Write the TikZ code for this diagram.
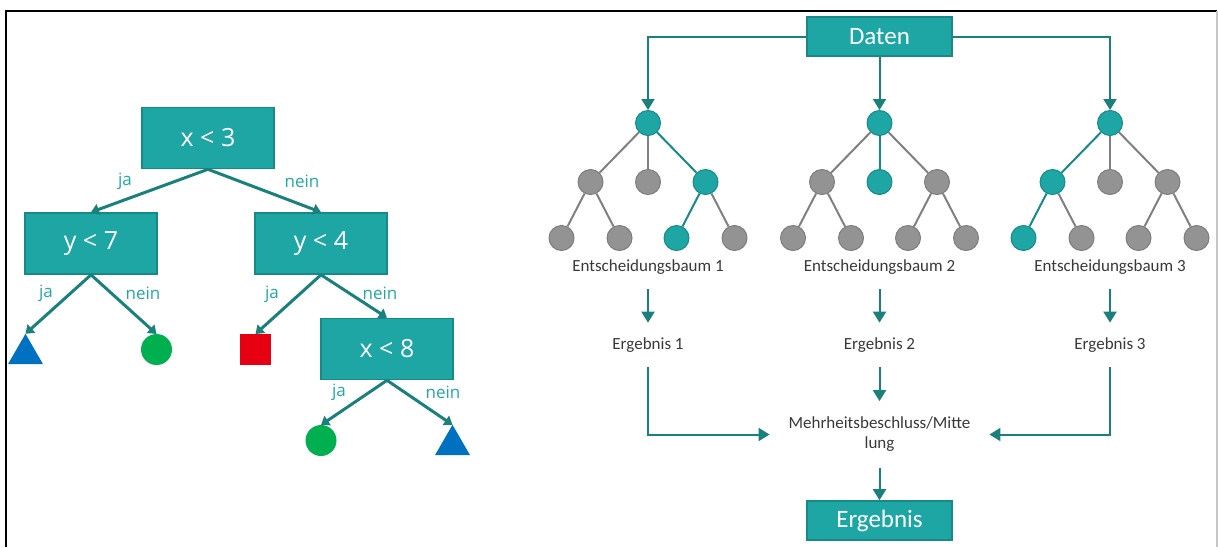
\documentclass[tikz,border=0pt]{standalone}
\usepackage{fontspec}
\setmainfont{Carlito}
\newfontfamily\treefont{Open Sans}
\usetikzlibrary{arrows.meta,shapes.geometric}

\definecolor{tealfill}{RGB}{29,166,164}
\definecolor{tealline}{RGB}{23,138,135}
\definecolor{tealarrow}{RGB}{26,128,124}
\definecolor{tealtext}{RGB}{33,168,165}
\definecolor{knotgray}{RGB}{147,147,147}
\definecolor{edgegray}{RGB}{128,128,128}
\definecolor{textgray}{RGB}{56,56,56}
\definecolor{leafblue}{RGB}{0,112,192}
\definecolor{leafgreen}{RGB}{0,176,80}
\definecolor{leafred}{RGB}{230,0,18}

\tikzset{
  tbox/.style={draw=tealline, fill=tealfill, line width=0.8pt, text=white, minimum width=66pt, minimum height=30.5pt, inner sep=0pt, font=\treefont\fontsize{12.5}{15}\selectfont},
  yn/.style={text=tealtext, inner sep=0pt, font=\treefont\fontsize{8.5}{10}\selectfont},
  arr/.style={draw=tealarrow, line width=1.5pt, -{Triangle[width=5.5pt,length=4pt]}},
  leaftri/.style={regular polygon, regular polygon sides=3, minimum size=20.2pt, inner sep=0pt, outer sep=0pt, fill=leafblue},
  leafdot/.style={circle, minimum size=15.5pt, inner sep=0pt, outer sep=0pt, fill=leafgreen},
  leafsq/.style={minimum size=15.5pt, inner sep=0pt, outer sep=0pt, fill=leafred},
  dbox/.style={draw=tealline, fill=tealfill, line width=0.8pt, text=white, minimum width=72.5pt, minimum height=19.5pt, inner sep=0pt, font=\fontsize{12.5}{15}\selectfont},
  knot/.style={circle, minimum size=12.5pt, inner sep=0pt, fill=knotgray, draw=knotgray!85!black, line width=0.5pt},
  hot/.style={knot, fill=tealfill, draw=tealline},
  gline/.style={draw=edgegray, line width=1pt},
  tline/.style={draw=tealline, line width=1pt},
  flow/.style={draw=tealarrow, line width=1pt, -{Triangle[width=6.5pt,length=5.5pt]}},
  lbl/.style={text=textgray, inner sep=0pt, outer ysep=7.5pt, font=\fontsize{8.5}{10}\selectfont}
}

\begin{document}
\begin{tikzpicture}[x=0.5pt,y=0.5pt,yscale=-1]
\useasboundingbox (0,0) rectangle (1218,547);

%Frame
\draw [line width=1.2pt] (6,547) -- (6,11) -- (1217,11) ;
\draw [color=gray!45, line width=0.8pt] (1217,11) -- (1217,547) ;

%Decision tree: boxes
\node [tbox] (x3) at (208,138) {x < 3};
\node [tbox] (y7) at (91,243.5) {y < 7};
\node [tbox] (y4) at (321,243.5) {y < 4};
\node [tbox] (x8) at (387,349) {x < 8};
%Decision tree: leaves
\node [leaftri] (tri1) at (25.5,354) {};
\node [leafdot] (kreis1) at (156.5,349.5) {};
\node [leafsq] (quad) at (255.5,349.5) {};
\node [leafdot] (kreis2) at (321,440.5) {};
\node [leaftri] (tri2) at (452.5,445) {};

%Decision tree: arrows
\draw [arr] (x3.south) -- (y7.north) ;
\draw [arr] (x3.south) -- (y4.north) ;
\draw [arr] (y7.south) -- (tri1.north) ;
\draw [arr] (y7.south) -- (kreis1.north) ;
\draw [arr] (y4.south) -- (quad.north) ;
\draw [arr] (y4.south) -- (x8.north) ;
\draw [arr] (x8.south) -- (kreis2.north) ;
\draw [arr] (x8.south) -- (tri2.north) ;

% Text Node
\node [yn] (ja1) at (125,181) {ja};
\node [yn] (nein1) at (302,181) {nein};
\node [yn] (ja2) at (46,293) {ja};
\node [yn] (nein2) at (143,293) {nein};
\node [yn] (ja3) at (272,294) {ja};
\node [yn] (nein3) at (380,293) {nein};
\node [yn] (ja4) at (339,392) {ja};
\node [yn] (nein4) at (443,392) {nein};

%Forest: data box
\node [dbox] (daten) at (879.5,36.5) {Daten};

%Forest: tree 1
\node [hot] (a) at (648,123) {};
\node [knot] (a1) at (590.5,182) {};
\node [knot] (a2) at (648,182) {};
\node [hot] (a3) at (705.5,182) {};
\node [knot] (a11) at (561.5,238) {};
\node [knot] (a12) at (619.5,238) {};
\node [hot] (a31) at (676.5,238) {};
\node [knot] (a32) at (734.5,238) {};
\draw [gline] (a) -- (a1) ;
\draw [gline] (a) -- (a2) ;
\draw [tline] (a) -- (a3) ;
\draw [gline] (a1) -- (a11) ;
\draw [gline] (a1) -- (a12) ;
\draw [tline] (a3) -- (a31) ;
\draw [gline] (a3) -- (a32) ;

%Forest: tree 2
\node [hot] (b) at (879.5,123) {};
\node [knot] (b1) at (822,182) {};
\node [hot] (b2) at (879.5,182) {};
\node [knot] (b3) at (937,182) {};
\node [knot] (b11) at (793,238) {};
\node [knot] (b12) at (851,238) {};
\node [knot] (b31) at (908,238) {};
\node [knot] (b32) at (966,238) {};
\draw [gline] (b) -- (b1) ;
\draw [tline] (b) -- (b2) ;
\draw [gline] (b) -- (b3) ;
\draw [gline] (b1) -- (b11) ;
\draw [gline] (b1) -- (b12) ;
\draw [gline] (b3) -- (b31) ;
\draw [gline] (b3) -- (b32) ;

%Forest: tree 3
\node [hot] (c) at (1110,123) {};
\node [hot] (c1) at (1052.5,182) {};
\node [knot] (c2) at (1110,182) {};
\node [knot] (c3) at (1167.5,182) {};
\node [hot] (c11) at (1023.5,238) {};
\node [knot] (c12) at (1081.5,238) {};
\node [knot] (c31) at (1138.5,238) {};
\node [knot] (c32) at (1196.5,238) {};
\draw [tline] (c) -- (c1) ;
\draw [gline] (c) -- (c2) ;
\draw [gline] (c) -- (c3) ;
\draw [tline] (c1) -- (c11) ;
\draw [gline] (c1) -- (c12) ;
\draw [gline] (c3) -- (c31) ;
\draw [gline] (c3) -- (c32) ;

% Text Node
\node [lbl] (t1) at (648,267) {Entscheidungsbaum 1};
\node [lbl] (t2) at (879.5,267) {Entscheidungsbaum 2};
\node [lbl] (t3) at (1110,267) {Entscheidungsbaum 3};
\node [lbl] (e1) at (648,345) {Ergebnis 1};
\node [lbl] (e2) at (879.5,345) {Ergebnis 2};
\node [lbl] (e3) at (1110,345) {Ergebnis 3};
\node [lbl, align=center, outer xsep=9.5pt, outer ysep=8pt] (mehr) at (879.5,434.5) {Mehrheitsbeschluss/Mitte\\lung};
\node [dbox] (erg) at (879.5,520.5) {Ergebnis};

%Forest: arrows
\draw [flow] (daten.west) -| (a) ;
\draw [flow] (daten) -- (b) ;
\draw [flow] (daten.east) -| (c) ;
\draw [flow] (t1) -- (e1) ;
\draw [flow] (t2) -- (e2) ;
\draw [flow] (t3) -- (e3) ;
\draw [flow] (e1) |- (mehr) ;
\draw [flow] (e2) -- (mehr) ;
\draw [flow] (e3) |- (mehr) ;
\draw [flow] (mehr) -- (erg) ;

\end{tikzpicture}
\end{document}
